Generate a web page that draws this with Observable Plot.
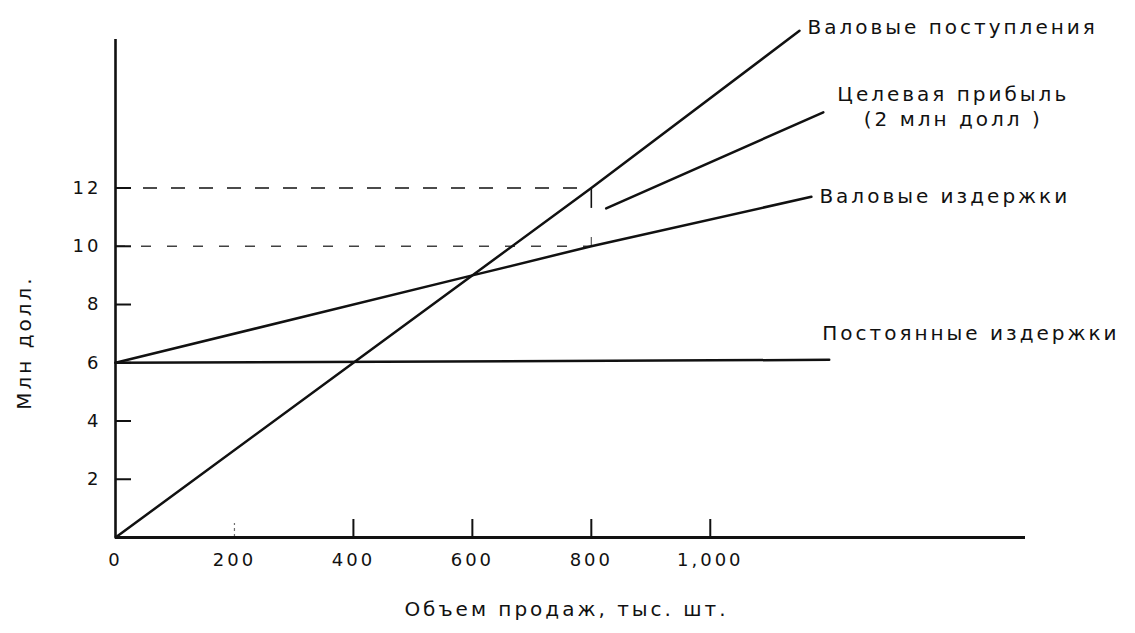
<!DOCTYPE html>
<html><head><meta charset="utf-8">
<script src="https://cdn.jsdelivr.net/npm/d3@7"></script>
<script src="https://cdn.jsdelivr.net/npm/@observablehq/plot@0.6"></script>
<style>
  html,body{margin:0;padding:0;background:#fff}
  svg{overflow:visible}
</style>
</head><body><div id="chart"></div>
<script>
// ---- data ----
const revenue    = [[0, 0], [400, 6], [800, 12], [1150, 17.4]];   // Валовые поступления
const totalCosts = [[0, 6], [600, 9], [800, 10], [1170, 11.7]];   // Валовые издержки
const fixedCosts = [[0, 6], [1200, 6.1]];                         // Постоянные издержки
const profitLeader = [[825, 11.3], [1190, 14.6]];                 // pointer to "Целевая прибыль"
const targetVolume = [800];
const targetRevenue = [12];
const targetCost = [10];
const xTicks = [0, 200, 400, 600, 800, 1000];
const yTicks = [2, 4, 6, 8, 10, 12];
const xMax = 1530;
const yMax = 17.1;
const revenueLabel = "Валовые поступления";
const profitLabel = "Целевая прибыль\n(2 млн долл )";
const totalLabel = "Валовые издержки";
const fixedLabel = "Постоянные издержки";
const xTitle = "Объем продаж, тыс. шт.";
const yTitle = "Млн долл.";

const ink = "#111";
const font = "DejaVu Sans";
const last = a => a[a.length - 1];

const chart = Plot.plot({
  width: 1135,
  height: 633,
  marginLeft: 115,
  marginRight: 110,
  marginTop: 39,
  marginBottom: 96,
  style: {fontFamily: font, color: ink, background: "#fff"},
  x: {domain: [0, xMax]},
  y: {domain: [0, yMax]},
  marks: [
    // dashed guide lines
    Plot.ruleY(targetRevenue, {x1: 0, x2: targetVolume[0], stroke: ink, strokeWidth: 1.6, strokeDasharray: "14,14"}),
    Plot.ruleY(targetCost, {x1: 0, x2: targetVolume[0], stroke: ink, strokeWidth: 1.3, strokeDasharray: "10,16", strokeOpacity: 0.8}),
    Plot.ruleX(targetVolume, {y1: targetRevenue[0], y2: profitLeader[0][1], stroke: ink, strokeWidth: 1.6}),
    Plot.ruleX(targetVolume, {y1: targetCost[0], y2: targetCost[0] + 0.3, stroke: ink, strokeWidth: 1.2, strokeOpacity: 0.7}),
    // axes lines
    Plot.ruleX([0], {y1: 0, y2: yMax, stroke: ink, strokeWidth: 2.6}),
    Plot.ruleY([0], {x1: 0, x2: xMax, stroke: ink, strokeWidth: 3}),
    // inward ticks
    Plot.axisY({ticks: yTicks, tickSize: -16, text: null, stroke: ink, strokeWidth: 2}),
    Plot.axisX({ticks: xTicks.filter(d => d > 200), tickSize: -18, text: null, stroke: ink, strokeWidth: 2}),
    Plot.axisX({ticks: [xTicks[1]], tickSize: -14, text: null, stroke: ink, strokeWidth: 1.2, strokeOpacity: 0.6, strokeDasharray: "3,3"}),
    // tick labels
    Plot.axisY({ticks: yTicks, tickSize: 0, tickPadding: 14, fontSize: 18, fill: ink, label: null}),
    Plot.axisX({ticks: xTicks, tickSize: 0, tickPadding: 16, tickFormat: d3.format(","), fontSize: 18, fill: ink, label: null}),
    // series lines
    Plot.line(revenue, {x: d => d[0], y: d => d[1], stroke: ink, strokeWidth: 2.5}),
    Plot.line(totalCosts, {x: d => d[0], y: d => d[1], stroke: ink, strokeWidth: 2.5}),
    Plot.line(fixedCosts, {x: d => d[0], y: d => d[1], stroke: ink, strokeWidth: 2.5}),
    Plot.line(profitLeader, {x: d => d[0], y: d => d[1], stroke: ink, strokeWidth: 2.5}),
    // series labels
    Plot.text([last(revenue)], {x: d => d[0], y: d => d[1], text: () => revenueLabel, textAnchor: "start", dx: 8, dy: -3, fontSize: 20, fill: ink}),
    Plot.text([last(totalCosts)], {x: d => d[0], y: d => d[1], text: () => totalLabel, textAnchor: "start", dx: 8, dy: 0, fontSize: 20, fill: ink}),
    Plot.text([last(fixedCosts)], {x: d => d[0], y: d => d[1], text: () => fixedLabel, textAnchor: "start", dx: -7, dy: -26, fontSize: 20, fill: ink}),
    Plot.text([last(profitLeader)], {x: d => d[0], y: d => d[1], text: () => profitLabel, textAnchor: "middle", dx: 130, dy: -7, lineHeight: 1.25, fontSize: 20, fill: ink}),
    // axis titles
    Plot.text([xTitle], {frameAnchor: "bottom", textAnchor: "middle", dy: 78, dx: -4, fontSize: 20, fill: ink}),
    Plot.text([yTitle], {frameAnchor: "left", textAnchor: "middle", dx: -91, dy: 54, rotate: -90, fontSize: 20, fill: ink})
  ]
});
document.getElementById("chart").appendChild(chart);
// widen letter spacing for the scanned-look labels
chart.querySelectorAll("text").forEach(t => t.style.letterSpacing = "3px");
</script>
</body></html>
